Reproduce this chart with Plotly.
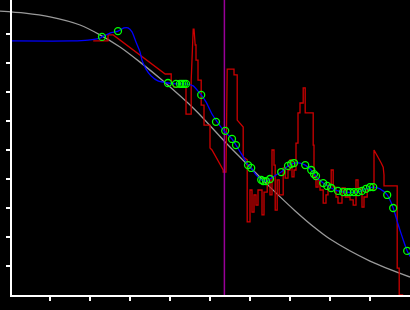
import plotly.graph_objects as go

# ---- data (arbitrary units: x ticks at 1..9, y ticks at 1..9) ----
curve_x = [-0.25, 0.375, 1.00, 1.75, 2.25, 2.75, 3.25, 3.80, 4.63, 5.45, 6.00, 6.50,
           7.13, 7.63, 8.00, 9.00, 10.00]
curve_y = [9.79, 9.72, 9.59, 9.31, 8.97, 8.55, 8.03, 7.41, 6.38, 5.17, 4.41, 3.72,
           2.90, 2.31, 1.93, 1.17, 0.62]

raw_x = [2.08, 2.45, 2.45, 2.58, 3.88, 4.03, 4.03, 4.10, 4.40, 4.40, 4.53, 4.53, 4.58, 4.60,
         4.63, 4.65, 4.65, 4.70, 4.70, 4.78, 4.78, 4.85, 4.85, 5.00, 5.00, 5.05, 5.33, 5.33,
         5.40, 5.43, 5.60, 5.60, 5.68, 5.68, 5.83, 5.83, 5.93, 5.93, 6.00, 6.00, 6.05, 6.05,
         6.10, 6.10, 6.15, 6.15, 6.20, 6.20, 6.30, 6.30, 6.35, 6.35, 6.43, 6.43, 6.50, 6.50,
         6.55, 6.55, 6.60, 6.60, 6.63, 6.63, 6.68, 6.68, 6.73, 6.73, 6.83, 6.83, 6.88, 6.88,
         6.95, 6.95, 7.00, 7.00, 7.05, 7.05, 7.10, 7.10, 7.15, 7.15, 7.20, 7.20, 7.25, 7.25,
         7.33, 7.33, 7.38, 7.38, 7.58, 7.58, 7.60, 7.60, 7.65, 7.65, 7.70, 7.70, 7.75, 7.75,
         7.83, 7.83, 7.90, 7.90, 7.95, 7.95, 8.03, 8.03, 8.08, 8.08, 8.15, 8.15, 8.20, 8.20,
         8.30, 8.30, 8.38, 8.38, 8.50, 8.50, 8.58, 8.58, 8.65, 8.65, 8.70, 8.70, 8.80, 8.80,
         8.85, 8.85, 8.93, 8.93, 9.10, 9.10, 9.28, 9.33, 9.35, 9.35, 9.68, 9.68, 9.73, 9.73,
         9.83]
raw_y = [8.76, 8.76, 8.97, 8.97, 7.62, 7.62, 7.41, 7.17, 7.17, 6.24, 6.24, 7.41, 9.17, 9.17,
         8.62, 8.62, 8.10, 8.10, 7.41, 7.41, 6.55, 6.55, 5.86, 5.86, 5.07, 5.00, 4.31, 4.24,
         4.24, 7.79, 7.79, 7.59, 7.59, 6.03, 5.79, 4.76, 4.66, 2.52, 2.52, 3.62, 3.62, 2.86,
         2.86, 3.45, 3.45, 3.10, 3.10, 3.62, 3.62, 2.76, 2.76, 3.55, 3.55, 3.97, 3.97, 3.45,
         3.45, 5.00, 5.00, 4.48, 4.48, 2.93, 2.93, 3.97, 3.97, 3.45, 3.45, 4.38, 4.38, 4.03,
         4.03, 4.31, 4.31, 4.66, 4.66, 4.07, 4.07, 4.31, 4.31, 5.24, 5.24, 6.28, 6.28, 6.62,
         6.62, 7.14, 7.14, 6.28, 6.28, 5.17, 5.17, 4.07, 4.07, 3.72, 3.72, 3.97, 3.97, 3.62,
         3.62, 3.17, 3.17, 3.45, 3.45, 3.79, 3.79, 4.31, 4.31, 3.72, 3.72, 3.38, 3.38, 3.17,
         3.17, 3.69, 3.69, 3.38, 3.38, 3.28, 3.28, 3.10, 3.10, 3.97, 3.97, 3.69, 3.69, 3.03,
         3.03, 3.38, 3.38, 3.62, 3.62, 5.00, 4.55, 4.41, 4.14, 3.76, 3.76, 0.93, 0.93, 0.0,
         0.0]

smooth_x = [0.0, 1.55, 1.95, 2.25, 2.30, 2.50, 2.70, 2.85, 2.95, 3.05, 3.15, 3.25, 3.30, 3.40,
            3.53, 3.70, 3.95, 4.15, 4.40, 4.58, 4.70, 4.78, 4.90, 5.05, 5.18, 5.35, 5.55, 5.65,
            5.80, 5.95, 6.03, 6.15, 6.28, 6.40, 6.50, 6.65, 6.78, 6.95, 7.10, 7.25, 7.38, 7.53,
            7.65, 7.83, 8.03, 8.20, 8.38, 8.70, 8.90, 9.08, 9.25, 9.43, 9.58, 9.70, 9.83, 9.93,
            10.03]
smooth_y = [8.76, 8.76, 8.79, 8.86, 8.90, 9.03, 9.10, 9.21, 9.21, 9.07, 8.72, 8.38, 8.10, 7.79,
            7.55, 7.38, 7.31, 7.28, 7.28, 7.21, 7.03, 6.90, 6.66, 6.24, 5.97, 5.66, 5.38, 5.17,
            4.83, 4.48, 4.38, 4.14, 3.97, 3.93, 4.00, 4.14, 4.24, 4.45, 4.55, 4.55, 4.48, 4.31,
            4.10, 3.86, 3.69, 3.59, 3.55, 3.55, 3.66, 3.72, 3.66, 3.45, 3.00, 2.45, 1.90, 1.52,
            1.28]

pts_x = [2.30, 2.70, 3.95, 4.15, 4.25, 4.30, 4.35, 4.40, 4.78, 5.15, 5.38, 5.55, 5.65, 5.95,
         6.03, 6.28, 6.33, 6.40, 6.50, 6.78, 6.95, 7.03, 7.10, 7.38, 7.53, 7.60, 7.65, 7.83,
         7.93, 8.03, 8.20, 8.33, 8.43, 8.50, 8.60, 8.70, 8.80, 8.90, 9.00, 9.08, 9.43, 9.58,
         9.93]
pts_y = [8.90, 9.10, 7.31, 7.28, 7.28, 7.28, 7.28, 7.28, 6.90, 5.97, 5.66, 5.38, 5.17, 4.48,
         4.38, 3.97, 3.93, 3.93, 4.00, 4.24, 4.45, 4.52, 4.55, 4.48, 4.31, 4.17, 4.10, 3.86,
         3.76, 3.69, 3.59, 3.55, 3.55, 3.55, 3.55, 3.55, 3.59, 3.66, 3.72, 3.72, 3.45, 3.00,
         1.52]

marker_x = 5.36
y_top = 10.172
tick_vals = [1, 2, 3, 4, 5, 6, 7, 8, 9]

fig = go.Figure()

# gray curve on the full-width background subplot (extends left of the axis)
fig.add_trace(go.Scatter(x=curve_x, y=curve_y, mode="lines", xaxis="x", yaxis="y",
                         line=dict(color="#9a9a9a", width=1.3, shape="spline", smoothing=0.8),
                         hoverinfo="skip", showlegend=False))

fig.add_trace(go.Scatter(x=raw_x, y=raw_y, mode="lines", xaxis="x2", yaxis="y2",
                         line=dict(color="#cc0000", width=1.3),
                         showlegend=False))
fig.add_trace(go.Scatter(x=[marker_x, marker_x], y=[0, y_top], mode="lines",
                         xaxis="x2", yaxis="y2",
                         line=dict(color="#990099", width=1.5), showlegend=False))
fig.add_trace(go.Scatter(x=smooth_x, y=smooth_y, mode="lines", xaxis="x2", yaxis="y2",
                         line=dict(color="#0000ff", width=1.3, shape="spline", smoothing=0.6),
                         showlegend=False))
fig.add_trace(go.Scatter(x=pts_x, y=pts_y, mode="markers", xaxis="x2", yaxis="y2",
                         marker=dict(symbol="circle-open", size=7, color="#00ff00",
                                     line=dict(width=1.3, color="#00ff00")),
                         showlegend=False))

axis_common = dict(showgrid=False, zeroline=False, showticklabels=False)

fig.update_layout(
    width=410, height=310,
    margin=dict(l=0, r=0, t=0, b=15, pad=0),
    paper_bgcolor="black", plot_bgcolor="rgba(0,0,0,0)",
    showlegend=False,
    xaxis=dict(domain=[0, 1], range=[-0.25, 10], visible=False, **axis_common),
    yaxis=dict(domain=[0, 1], range=[0, y_top], visible=False, **axis_common),
    xaxis2=dict(domain=[12 / 410, 1], range=[0.05, 10], anchor="y2",
                showline=True, linecolor="white", linewidth=1.5,
                ticks="outside", ticklen=4, tickwidth=1.5, tickcolor="white",
                tickmode="array", tickvals=tick_vals, **axis_common),
    yaxis2=dict(domain=[0, 1], range=[0, y_top], anchor="x2",
                showline=True, linecolor="white", linewidth=1.5,
                ticks="outside", ticklen=4, tickwidth=1.5, tickcolor="white",
                tickmode="array", tickvals=tick_vals, **axis_common),
)

fig.write_html("out.html")
